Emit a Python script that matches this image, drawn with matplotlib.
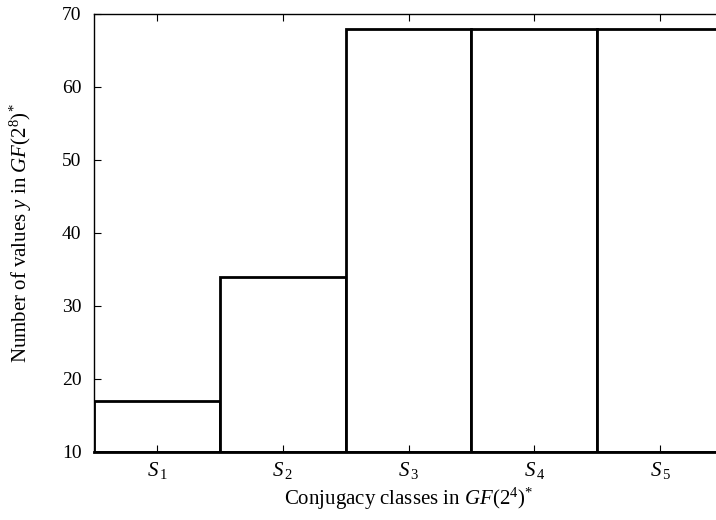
import matplotlib.pyplot as plt
import numpy as np

plt.rcParams['font.family'] = 'Liberation Serif'
plt.rcParams['mathtext.fontset'] = 'custom'
plt.rcParams['mathtext.rm'] = 'Liberation Serif'
plt.rcParams['mathtext.it'] = 'Liberation Serif:italic'

classes = [r'$S_{\,1}$', r'$S_{\,2}$', r'$S_{\,3}$', r'$S_{\,4}$', r'$S_{\,5}$']
counts = [17, 34, 68, 68, 68]

fig = plt.figure(figsize=(7.16, 5.2), dpi=100)
ax = fig.add_axes([0.1313, 0.1308, 0.8785, 0.8423])

x = np.arange(len(classes))
ax.bar(x, np.array(counts) - 10, bottom=10, width=1.0, facecolor='white',
       edgecolor='black', linewidth=2)

ax.set_xlim(-0.5, 4.5)
ax.set_ylim(10, 70)
ax.set_yticks(range(10, 71, 10))
ax.set_xticks(x)
ax.set_xticklabels(classes, fontsize=15)
ax.tick_params(axis='y', direction='in', length=5, labelsize=14, right=True, pad=9)
ax.tick_params(axis='x', direction='in', length=5, top=True, pad=6)
for s in ax.spines.values():
    s.set_linewidth(1)
ax.spines['bottom'].set_linewidth(2)

ax.set_xlabel(r'Conjugacy classes in $GF(2^4)^{*}$', fontsize=15, labelpad=3)
ax.set_ylabel(r'Number of values $y$ in $GF(2^8)^{*}$', fontsize=15, labelpad=20)

fig.savefig('out.png', dpi=100)
